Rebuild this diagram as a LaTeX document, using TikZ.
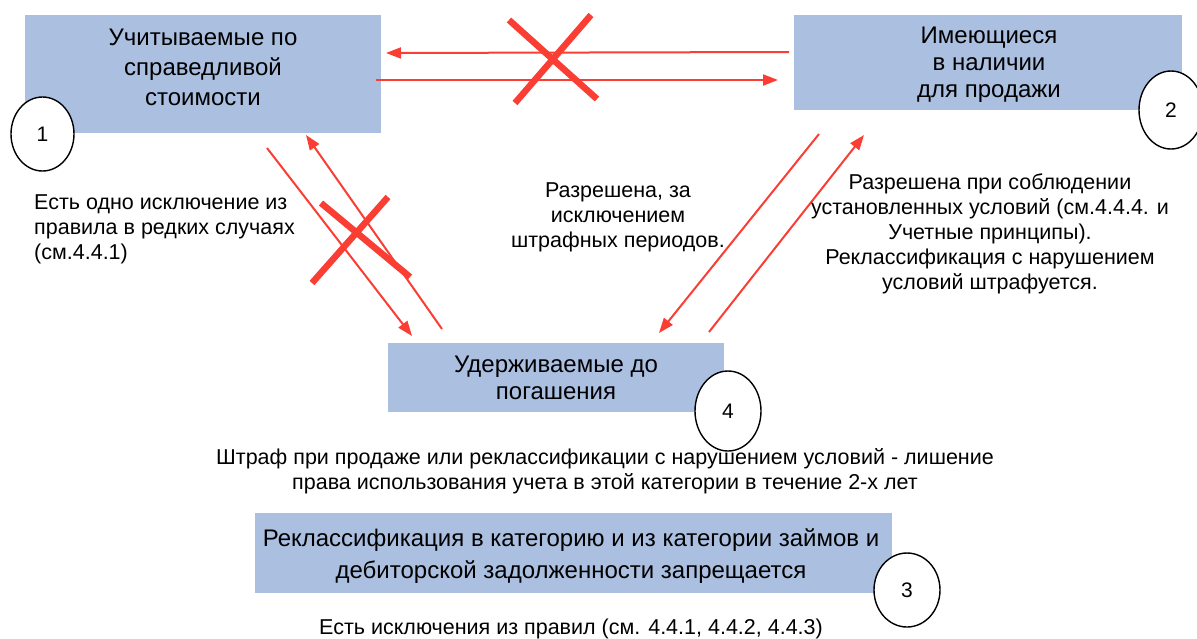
\documentclass[tikz,border=0pt]{standalone}
\usepackage{fontspec}
\setmainfont{Liberation Sans}
\usetikzlibrary{arrows.meta,shapes.geometric}
\definecolor{boxblue}{RGB}{171,191,225}
\definecolor{arrred}{RGB}{250,62,52}
\tikzset{
  every node/.style={font=\fontsize{21.5}{25}\selectfont, inner sep=0pt},
  catbox/.style={fill=boxblue, draw=none, align=center},
  boxtext/.style={align=center},
  numcirc/.style={ellipse, draw=black, line width=1.4pt, fill=white, font=\fontsize{21}{25}\selectfont},
  redarrow/.style={draw=arrred, line width=2pt, -{Triangle[length=15pt,width=11pt]}},
  crossline/.style={draw=arrred, line width=6.5pt},
  note/.style={align=center}
}
\begin{document}
\begin{tikzpicture}[x=1pt,y=-1pt]
\useasboundingbox (0,0) rectangle (1197,638);

% boxes
\node[catbox, minimum width=356, minimum height=118] (b1) at (203,74) {};
\node[boxtext, font=\fontsize{24}{30}\selectfont] (t1) at (203,67) {Учитываемые по\\справедливой\\стоимости};
\node[catbox, minimum width=388, minimum height=95] (b2) at (988,62.5) {};
\node[boxtext, font=\fontsize{24}{27}\selectfont] (t2) at (989,65) {Имеющиеся\\в наличии\\для продажи};
\node[catbox, minimum width=336, minimum height=69] (b4) at (556,377.5) {};
\node[boxtext, font=\fontsize{24}{27}\selectfont] (t4) at (556,378) {Удерживаемые до\\погашения};
\node[catbox, minimum width=637, minimum height=80] (b3) at (573.5,553) {};
\node[boxtext, font=\fontsize{24}{32}\selectfont] (t3) at (571,556) {Реклассификация в категорию и из категории займов и\\дебиторской задолженности запрещается};

% number circles
\node[numcirc, minimum width=63, minimum height=74] (c1) at (42.5,134) {1};
\node[numcirc, minimum width=64, minimum height=78] (c2) at (1171,110) {2};
\node[numcirc, minimum width=66, minimum height=80] (c4) at (728,411) {4};
\node[numcirc, minimum width=66, minimum height=74] (c3) at (907,590) {3};

% free ends of connectors
\coordinate (a1s) at (789,52);  \coordinate (a1e) at (386,53);
\coordinate (a2s) at (376,80);  \coordinate (a2e) at (778,80);
\coordinate (aAs) at (267,148); \coordinate (aAe) at (412,336);
\coordinate (aBs) at (442,329); \coordinate (aBe) at (306,135);
\coordinate (aCs) at (819,134); \coordinate (aCe) at (659,333);
\coordinate (aDs) at (709,332); \coordinate (aDe) at (864,135);

\draw[redarrow] (a1s) -- (a1e);
\draw[redarrow] (a2s) -- (a2e);
\draw[redarrow] (aAs) -- (aAe);
\draw[redarrow] (aBs) -- (aBe);
\draw[redarrow] (aCs) -- (aCe);
\draw[redarrow] (aDs) -- (aDe);

% crosses
\coordinate (x1a) at (509,20);  \coordinate (x1b) at (597,99);
\coordinate (x1c) at (515,103); \coordinate (x1d) at (591,15);
\draw[crossline] (x1a) -- (x1b);
\draw[crossline] (x1c) -- (x1d);
\coordinate (x2a) at (312,283); \coordinate (x2b) at (388,197);
\coordinate (x2c) at (321,203); \coordinate (x2d) at (410,277);
\draw[crossline] (x2a) -- (x2b);
\draw[crossline] (x2c) -- (x2d);

% notes
\node[align=left, anchor=west] (nL) at (34,229) {Есть одно исключение из\\правила в редких случаях\\(см.4.4.1)};
\node[note] (nM) at (618,217) {Разрешена, за\\исключением\\штрафных периодов.};
\node[note] (nR) at (990,233.5) {Разрешена при соблюдении\\установленных условий (см.4.4.4. и\\Учетные принципы).\\Реклассификация с нарушением\\условий штрафуется.};
\node[note] (nP) at (605,471) {Штраф при продаже или реклассификации с нарушением условий - лишение\\права использования учета в этой категории в течение 2-х лет};
\node[note] (nB) at (571,628.5) {Есть исключения из правил (см. 4.4.1, 4.4.2, 4.4.3)};
\end{tikzpicture}
\end{document}
